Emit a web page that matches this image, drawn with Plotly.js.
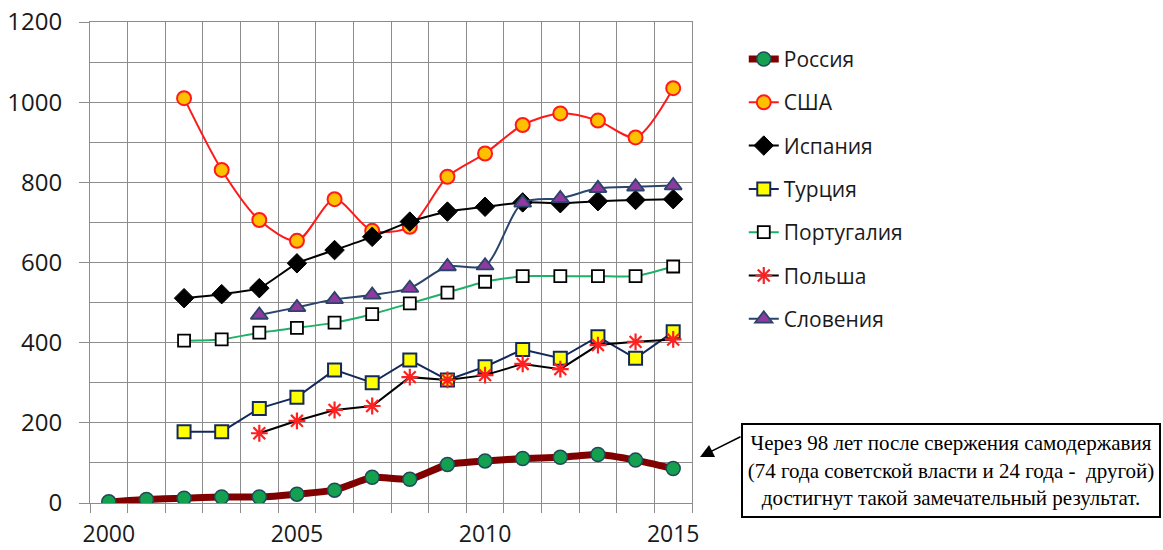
<!DOCTYPE html>
<html>
<head>
<meta charset="utf-8">
<script src="https://cdn.plot.ly/plotly-3.0.1.min.js"></script>
<style>html,body{margin:0;padding:0;background:#fff;}#chart{width:1163px;height:550px;}</style>
</head>
<body>
<div id="chart"></div>
<script>
const years = [2000,2001,2002,2003,2004,2005,2006,2007,2008,2009,2010,2011,2012,2013,2014,2015];
const russia   = [3,9,12,15,15,22,32,64,59,96,105,111,114,121,107,86];
const usa      = [null,null,1010,831,706,654,758,679,689,814,872,943,972,954,912,1035];
const spain    = [null,null,511,521,536,598,631,664,702,727,739,750,748,753,756,758];
const turkey   = [null,null,178,178,236,264,332,300,357,307,340,383,361,415,361,427];
const portugal = [null,null,405,408,425,437,450,471,498,525,552,566,566,566,566,590];
const poland   = [null,null,null,null,174,205,232,242,314,307,319,347,334,394,402,408];
const slovenia = [null,null,null,null,469,488,508,519,536,590,592,749,760,785,789,792];
const seriesNames = ['Россия','США','Испания','Турция','Португалия','Польша','Словения'];
const xTicks = [2000,2005,2010,2015];
const noteText = 'Через 98 лет после свержения самодержавия<br>(74 года советской власти и 24 года -  другой)<br>достигнут такой замечательный результат.';

const traces = [
  {y: russia, name: seriesNames[0], line:{color:'#800000', width:7, shape:'spline', smoothing:0.5},
   marker:{symbol:'circle', size:14, color:'#13a04f', line:{color:'#1f4a5a', width:1.5}}},
  {y: usa, name: seriesNames[1], line:{color:'#ff1a1a', width:2, shape:'spline', smoothing:0.8},
   marker:{symbol:'circle', size:14, color:'#ffc000', line:{color:'#ff1a1a', width:2}}},
  {y: spain, name: seriesNames[2], line:{color:'#000000', width:2, shape:'spline', smoothing:0.5},
   marker:{symbol:'diamond', size:15, color:'#000000', line:{color:'#000000', width:1}}},
  {y: turkey, name: seriesNames[3], line:{color:'#14285a', width:2},
   marker:{symbol:'square', size:13, color:'#ffff00', line:{color:'#14285a', width:2}}},
  {y: portugal, name: seriesNames[4], line:{color:'#1db067', width:2, shape:'spline', smoothing:0.6},
   marker:{symbol:'square', size:12, color:'#ffffff', line:{color:'#000000', width:1.8}}},
  {y: poland, name: seriesNames[5], line:{color:'#000000', width:2},
   marker:{symbol:'asterisk-open', size:14, color:'#ff2020', line:{color:'#ff2020', width:2.2}}},
  {y: slovenia, name: seriesNames[6], line:{color:'#2a446b', width:2, shape:'spline', smoothing:0.8},
   marker:{symbol:'triangle-up', size:15, color:'#8e3a9e', line:{color:'#2a446b', width:1.8}}}
].map((t,i) => Object.assign({x: years, type:'scatter', mode:'lines+markers', legendgroup:'g'+i, connectgaps:false, hoverinfo:'skip'}, t));

const gridC = '#8c8c8c';
const layout = {
  width:1163, height:550,
  margin:{l:90, r:471, t:22, b:47, pad:0},
  paper_bgcolor:'#ffffff', plot_bgcolor:'#ffffff',
  font:{family:'"Open Sans", sans-serif', color:'#1a1a1a'},
  showlegend:true,
  legend:{x:1.086, y:0.965, xanchor:'left', yanchor:'top', traceorder:'grouped', tracegroupgap:13,
          font:{size:21, color:'#1a1a1a'}, bgcolor:'rgba(0,0,0,0)', borderwidth:0},
  xaxis:{range:[1999.5,2015.5], tickvals:xTicks, ticktext:xTicks.map(String), ticks:'', showgrid:false,
         zeroline:false, showline:true, mirror:true, linecolor:gridC, linewidth:1,
         tickfont:{size:23, color:'#1a1a1a'}, ticklabelstandoff:10,
         minor:{tick0:1999.5, dtick:1, showgrid:true, gridcolor:gridC, gridwidth:1, ticks:'outside', ticklen:9, tickcolor:gridC}},
  yaxis:{range:[0,1200], dtick:200, tick0:0, showgrid:true, gridcolor:gridC, gridwidth:1,
         zeroline:false, showline:true, mirror:true, linecolor:gridC, linewidth:1,
         ticks:'outside', ticklen:10, tickcolor:gridC, tickfont:{size:24, color:'#1a1a1a'}, ticklabelstandoff:12,
         minor:{dtick:100, showgrid:true, gridcolor:gridC, gridwidth:1}},
  annotations:[
    {xref:'paper', yref:'paper', x:(700-90)/602, y:(503-457)/481, text:'', showarrow:true,
     axref:'pixel', ayref:'pixel', ax:42, ay:-21, arrowhead:2, arrowsize:1.8, arrowwidth:1.5, arrowcolor:'#000000'},
    {xref:'paper', yref:'paper', x:(951-90)/602, y:(503-470)/481, xanchor:'center', yanchor:'middle',
     text:noteText, showarrow:false, align:'center', width:412, height:87,
     font:{family:'"Liberation Serif", "Times New Roman", serif', size:21, color:'#000000'},
     bordercolor:'#000000', borderwidth:2, borderpad:2, bgcolor:'#ffffff'}
  ]
};

Plotly.newPlot('chart', traces, layout, {displayModeBar:false, staticPlot:true});
</script>
</body>
</html>
